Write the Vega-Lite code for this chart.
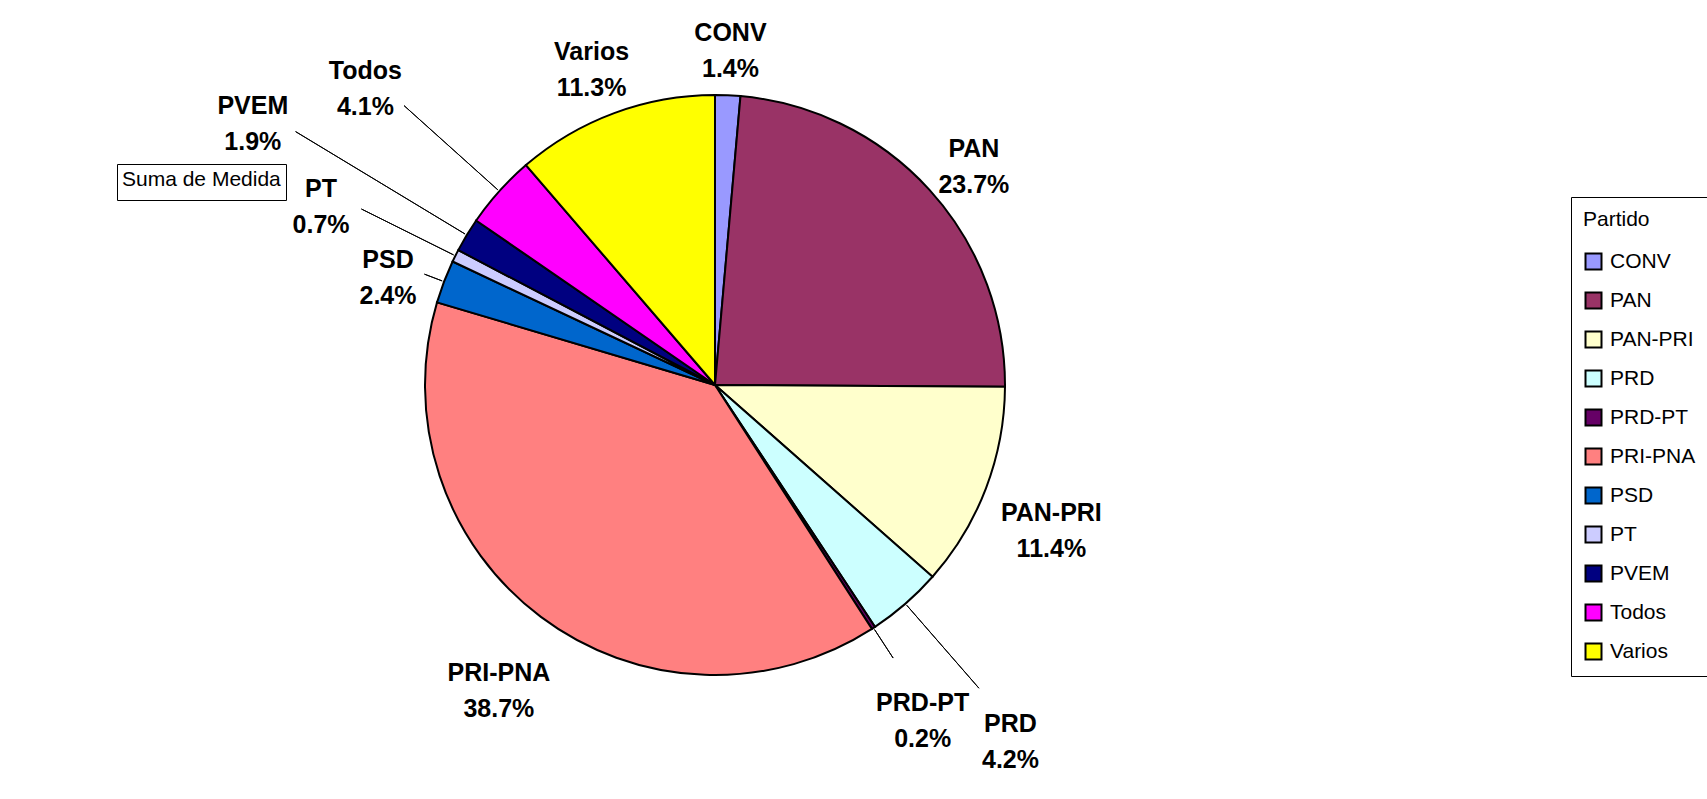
{
  "$schema": "https://vega.github.io/schema/vega-lite/v6.json",
  "width": 1430,
  "height": 770,
  "autosize": {"type": "none"},
  "padding": {"left": 0, "top": 0, "right": 277, "bottom": 29},
  "background": "white",
  "config": {"view": {"stroke": null}, "font": "Liberation Sans, Arial"},
  "data": {"values": [
    {"partido": "CONV", "pct": 1.4},
    {"partido": "PAN", "pct": 23.7},
    {"partido": "PAN-PRI", "pct": 11.4},
    {"partido": "PRD", "pct": 4.2},
    {"partido": "PRD-PT", "pct": 0.2},
    {"partido": "PRI-PNA", "pct": 38.7},
    {"partido": "PSD", "pct": 2.4},
    {"partido": "PT", "pct": 0.7},
    {"partido": "PVEM", "pct": 1.9},
    {"partido": "Todos", "pct": 4.1},
    {"partido": "Varios", "pct": 11.3}
  ]},
  "transform": [
    {"stack": "pct", "groupby": [], "as": ["p0", "p1"], "sort": [{"field": "partido", "order": "ascending"}]},
    {"calculate": "(datum.p0 + datum.p1) / 2", "as": "mid"},
    {"calculate": "[datum.partido, format(datum.pct, '.1f') + '%']", "as": "label"}
  ],
  "layer": [
    {
      "mark": {"type": "arc", "radius": 290, "stroke": "black", "strokeWidth": 2},
      "encoding": {
        "theta": {"field": "p0", "type": "quantitative", "scale": {"domain": [0, 100]}, "stack": null},
        "theta2": {"field": "p1"},
        "color": {
          "field": "partido", "type": "nominal",
          "scale": {
            "domain": ["CONV", "PAN", "PAN-PRI", "PRD", "PRD-PT", "PRI-PNA", "PSD", "PT", "PVEM", "Todos", "Varios"],
            "range": ["#9999FF", "#993366", "#FFFFCC", "#CCFFFF", "#660066", "#FF8080", "#0066CC", "#CCCCFF", "#000080", "#FF00FF", "#FFFF00"]
          },
          "legend": {
            "title": "Partido", "orient": "none", "legendX": 1571, "legendY": 197,
            "strokeColor": "black", "padding": 12,
            "titleFont": "Liberation Sans", "titleFontSize": 21, "titleFontWeight": "normal", "titleColor": "black", "titlePadding": 21,
            "labelFont": "Liberation Sans", "labelFontSize": 21, "labelColor": "black", "labelLimit": 200, "labelOffset": 6,
            "symbolType": "square", "symbolSize": 256, "symbolStrokeColor": "black", "symbolStrokeWidth": 2, "symbolOpacity": 1,
            "rowPadding": 14
          }
        },
        "opacity": {
          "datum": "Suma de Medida", "type": "ordinal",
          "scale": {"range": [1]},
          "legend": {
            "title": "Suma de Medida", "orient": "none", "legendX": 117, "legendY": 164,
            "strokeColor": "black", "padding": 5, "fillColor": "white",
            "titleFont": "Liberation Sans", "titleFontSize": 21, "titleFontWeight": "normal", "titleColor": "black", "titlePadding": 0,
            "labelExpr": "''", "labelFontSize": 0, "symbolSize": 0, "symbolOpacity": 0, "symbolStrokeWidth": 0, "rowPadding": 0
          }
        }
      }
    },
    {
      "transform": [{"filter": {"field": "partido", "oneOf": ["CONV"]}}],
      "mark": {"type": "text", "radius": 352, "fontWeight": "bold", "fontSize": 25, "lineHeight": 36, "color": "black"},
      "encoding": {"theta": {"field": "mid", "type": "quantitative", "scale": {"domain": [0, 100]}, "stack": null}, "text": {"field": "label"}}
    },
    {
      "transform": [{"filter": {"field": "partido", "oneOf": ["Varios"]}}],
      "mark": {"type": "text", "radius": 355, "fontWeight": "bold", "fontSize": 25, "lineHeight": 36, "color": "black"},
      "encoding": {"theta": {"field": "mid", "type": "quantitative", "scale": {"domain": [0, 100]}, "stack": null}, "text": {"field": "label"}}
    },
    {
      "transform": [{"filter": {"field": "partido", "oneOf": ["PAN"]}}],
      "mark": {"type": "text", "radius": 350, "fontWeight": "bold", "fontSize": 25, "lineHeight": 36, "color": "black"},
      "encoding": {"theta": {"field": "mid", "type": "quantitative", "scale": {"domain": [0, 100]}, "stack": null}, "text": {"field": "label"}}
    },
    {
      "transform": [{"filter": {"field": "partido", "oneOf": ["PAN-PRI", "PRI-PNA"]}}],
      "mark": {"type": "text", "radius": 360, "fontWeight": "bold", "fontSize": 25, "lineHeight": 36, "color": "black"},
      "encoding": {"theta": {"field": "mid", "type": "quantitative", "scale": {"domain": [0, 100]}, "stack": null}, "text": {"field": "label"}}
    },
    {
      "transform": [{"filter": {"field": "partido", "oneOf": ["PRD"]}}],
      "layer": [
        {"mark": {"type": "arc", "radius": 402, "radius2": 292, "fill": null, "stroke": "black", "strokeWidth": 1},
         "encoding": {"theta": {"field": "mid", "type": "quantitative", "scale": {"domain": [0, 100]}, "stack": null}, "theta2": {"field": "mid"}}},
        {"mark": {"type": "text", "radius": 450, "fontWeight": "bold", "fontSize": 25, "lineHeight": 36, "color": "black"},
         "encoding": {"theta": {"field": "mid", "type": "quantitative", "scale": {"domain": [0, 100]}, "stack": null}, "text": {"field": "label"}}}
      ]
    },
    {
      "transform": [{"filter": {"field": "partido", "oneOf": ["PRD-PT"]}}],
      "layer": [
        {"mark": {"type": "arc", "radius": 326, "radius2": 292, "fill": null, "stroke": "black", "strokeWidth": 1},
         "encoding": {"theta": {"field": "mid", "type": "quantitative", "scale": {"domain": [0, 100]}, "stack": null}, "theta2": {"field": "mid"}}},
        {"mark": {"type": "text", "radius": 380, "fontWeight": "bold", "fontSize": 25, "lineHeight": 36, "color": "black"},
         "encoding": {"theta": {"field": "mid", "type": "quantitative", "scale": {"domain": [0, 100]}, "stack": null}, "text": {"field": "label"}}}
      ]
    },
    {
      "transform": [{"filter": {"field": "partido", "oneOf": ["PSD"]}}],
      "layer": [
        {"mark": {"type": "arc", "radius": 311, "radius2": 292, "fill": null, "stroke": "black", "strokeWidth": 1},
         "encoding": {"theta": {"field": "mid", "type": "quantitative", "scale": {"domain": [0, 100]}, "stack": null}, "theta2": {"field": "mid"}}},
        {"mark": {"type": "text", "radius": 350, "fontWeight": "bold", "fontSize": 25, "lineHeight": 36, "color": "black"},
         "encoding": {"theta": {"field": "mid", "type": "quantitative", "scale": {"domain": [0, 100]}, "stack": null}, "text": {"field": "label"}}}
      ]
    },
    {
      "transform": [{"filter": {"field": "partido", "oneOf": ["PT"]}}],
      "layer": [
        {"mark": {"type": "arc", "radius": 395, "radius2": 292, "fill": null, "stroke": "black", "strokeWidth": 1},
         "encoding": {"theta": {"field": "mid", "type": "quantitative", "scale": {"domain": [0, 100]}, "stack": null}, "theta2": {"field": "mid"}}},
        {"mark": {"type": "text", "radius": 440, "fontWeight": "bold", "fontSize": 25, "lineHeight": 36, "color": "black"},
         "encoding": {"theta": {"field": "mid", "type": "quantitative", "scale": {"domain": [0, 100]}, "stack": null}, "text": {"field": "label"}}}
      ]
    },
    {
      "transform": [{"filter": {"field": "partido", "oneOf": ["PVEM"]}}],
      "layer": [
        {"mark": {"type": "arc", "radius": 490, "radius2": 292, "fill": null, "stroke": "black", "strokeWidth": 1},
         "encoding": {"theta": {"field": "mid", "type": "quantitative", "scale": {"domain": [0, 100]}, "stack": null}, "theta2": {"field": "mid"}}},
        {"mark": {"type": "text", "radius": 540, "fontWeight": "bold", "fontSize": 25, "lineHeight": 36, "color": "black"},
         "encoding": {"theta": {"field": "mid", "type": "quantitative", "scale": {"domain": [0, 100]}, "stack": null}, "text": {"field": "label"}}}
      ]
    },
    {
      "transform": [{"filter": {"field": "partido", "oneOf": ["Todos"]}}],
      "layer": [
        {"mark": {"type": "arc", "radius": 418, "radius2": 292, "fill": null, "stroke": "black", "strokeWidth": 1},
         "encoding": {"theta": {"field": "mid", "type": "quantitative", "scale": {"domain": [0, 100]}, "stack": null}, "theta2": {"field": "mid"}}},
        {"mark": {"type": "text", "radius": 470, "fontWeight": "bold", "fontSize": 25, "lineHeight": 36, "color": "black"},
         "encoding": {"theta": {"field": "mid", "type": "quantitative", "scale": {"domain": [0, 100]}, "stack": null}, "text": {"field": "label"}}}
      ]
    }
  ]
}
